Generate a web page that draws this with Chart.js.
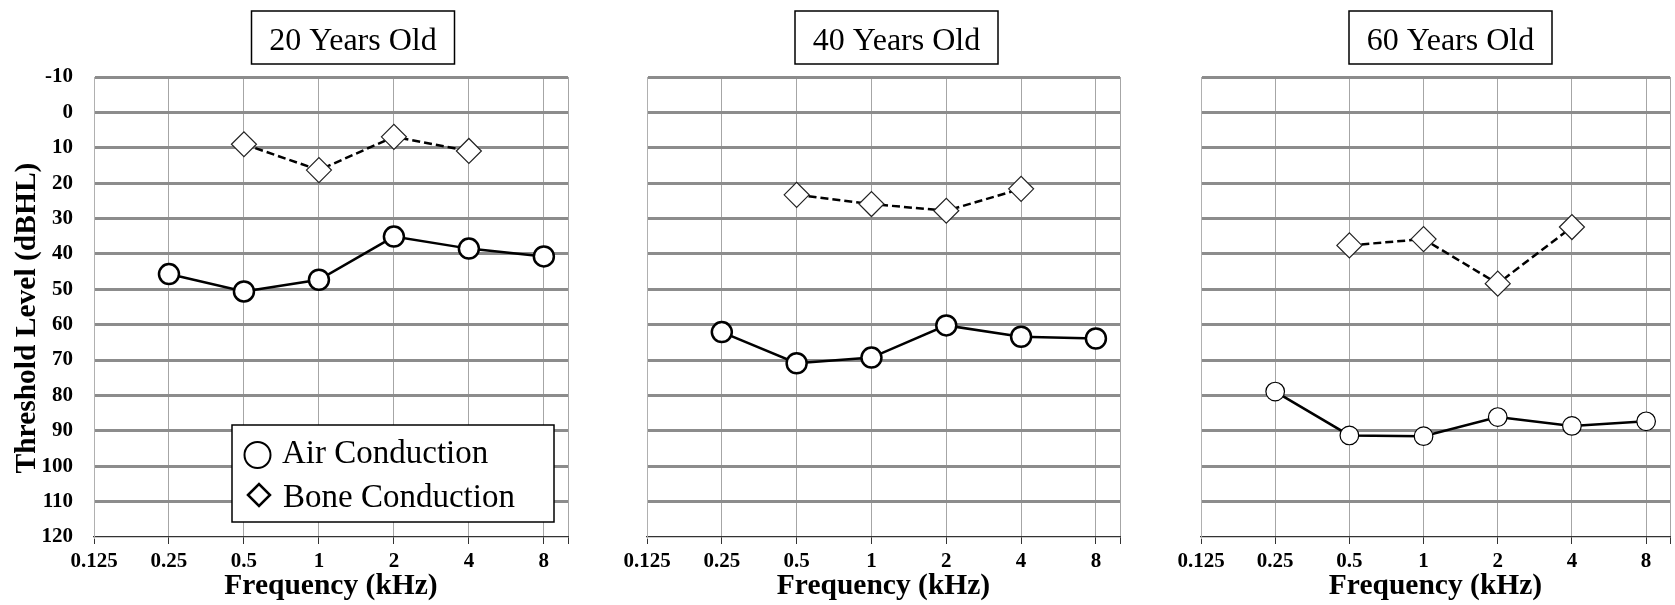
<!DOCTYPE html>
<html>
<head>
<meta charset="utf-8">
<script src="https://cdn.jsdelivr.net/npm/chart.js@4.4.0/dist/chart.umd.min.js"></script>
<style>
  html, body { margin: 0; padding: 0; background: #fff; }
  #wrap { position: relative; width: 1675px; height: 605px; overflow: hidden; }
  .panel { position: absolute; top: 0; }
</style>
</head>
<body>
<div id="wrap">
  <canvas id="c20" class="panel" style="left:0px" width="600" height="605"></canvas>
  <canvas id="c40" class="panel" style="left:600px" width="550" height="605"></canvas>
  <canvas id="c60" class="panel" style="left:1150px" width="525" height="605"></canvas>
</div>
<script>
// frequencies (kHz)
var freqTicks = [0.125, 0.25, 0.5, 1, 2, 4, 8];
var freqMax = 10;
var airFreqs = [0.25, 0.5, 1, 2, 4, 8];
var boneFreqs = [0.5, 1, 2, 4];

// thresholds (dBHL)
var air20 = [45.7, 50.6, 47.3, 35.1, 38.5, 40.7];
var bone20 = [9, 16.3, 6.9, 10.9];
var air40 = [62.1, 70.9, 69.3, 60.2, 63.4, 63.9];
var bone40 = [23.3, 25.9, 27.8, 21.6];
var air60 = [78.9, 91.3, 91.5, 86.1, 88.6, 87.3];
var bone60 = [37.6, 35.8, 48.4, 32.4];

var seriesNames = ['Air Conduction', 'Bone Conduction'];
var yTitle = 'Threshold Level (dBHL)';
var xTitle = 'Frequency (kHz)';

var SERIF = '"Liberation Serif", "Times New Roman", serif';

function pts(freqs, vals) {
    return freqs.map((f, i) => ({ x: f, y: vals[i] }));
}

// boxed panel title above the plot
const boxTitle = {
    id: 'boxTitle',
    afterDraw(chart, args, o) {
        const ctx = chart.ctx;
        const a = chart.chartArea;
        const cx = (a.left + a.right) / 2 + o.shift;
        ctx.save();
        ctx.fillStyle = '#fff';
        ctx.fillRect(cx - 101.5, 11, 203, 53);
        ctx.lineWidth = 1.5;
        ctx.strokeStyle = '#000';
        ctx.strokeRect(cx - 101.5, 11, 203, 53);
        ctx.font = '32px ' + SERIF;
        ctx.fillStyle = '#000';
        ctx.textAlign = 'center';
        ctx.textBaseline = 'alphabetic';
        ctx.fillText(o.text, cx, 50);
        ctx.restore();
    }
};

// legend box inside the first panel
const boxLegend = {
    id: 'boxLegend',
    afterDraw(chart, args, o) {
        if (!o.show) return;
        const ctx = chart.ctx;
        const a = chart.chartArea;
        const x = a.left + 138, y = a.top + 348, w = 322, h = 97;
        ctx.save();
        ctx.fillStyle = '#fff';
        ctx.fillRect(x, y, w, h);
        ctx.lineWidth = 1.5;
        ctx.strokeStyle = '#000';
        ctx.strokeRect(x, y, w, h);
        // circle
        ctx.lineWidth = 2;
        ctx.beginPath();
        ctx.arc(x + 25.5, y + 30, 13, 0, Math.PI * 2);
        ctx.stroke();
        // diamond
        ctx.lineWidth = 2.5;
        ctx.beginPath();
        ctx.moveTo(x + 27 - 11, y + 70);
        ctx.lineTo(x + 27, y + 70 - 11);
        ctx.lineTo(x + 27 + 11, y + 70);
        ctx.lineTo(x + 27, y + 70 + 11);
        ctx.closePath();
        ctx.stroke();
        ctx.font = '33px ' + SERIF;
        ctx.fillStyle = '#000';
        ctx.textBaseline = 'alphabetic';
        ctx.fillText(chart.data.datasets[0].label, x + 50, y + 38);
        ctx.fillText(chart.data.datasets[1].label, x + 51, y + 82);
        ctx.restore();
    }
};

function makePanel(id, title, air, bone, p) {
    const ctx = document.getElementById(id).getContext('2d');
    return new Chart(ctx, {
        type: 'line',
        data: {
            datasets: [
                {
                    label: seriesNames[0],
                    data: pts(airFreqs, air),
                    borderColor: '#000',
                    borderWidth: 2.5,
                    pointStyle: 'circle',
                    pointRadius: p.circleR,
                    pointBorderWidth: p.circleBw,
                    pointBorderColor: '#000',
                    pointBackgroundColor: '#fff',
                    tension: 0
                },
                {
                    label: seriesNames[1],
                    data: pts(boneFreqs, bone),
                    borderColor: '#000',
                    borderWidth: 2.5,
                    borderDash: [8, 4],
                    pointStyle: 'rectRot',
                    pointRadius: 12.5,
                    pointBorderWidth: 1.2,
                    pointBorderColor: '#222',
                    pointBackgroundColor: '#fff',
                    tension: 0
                }
            ]
        },
        options: {
            responsive: false,
            animation: false,
            layout: {
                autoPadding: false,
                padding: { top: 77, right: p.right, bottom: 0, left: 0 }
            },
            plugins: {
                legend: { display: false },
                tooltip: { enabled: false },
                boxTitle: { text: title, shift: p.shift },
                boxLegend: { show: p.legend }
            },
            scales: {
                x: {
                    type: 'logarithmic',
                    min: freqTicks[0],
                    max: freqMax,
                    afterBuildTicks: s => { s.ticks = freqTicks.concat([freqMax]).map(v => ({ value: v })); },
                    afterFit: s => { s.height = 68; },
                    ticks: {
                        autoSkip: false,
                        maxRotation: 0,
                        padding: 5,
                        color: '#000',
                        font: { family: SERIF, size: 21, weight: 'bold' },
                        callback: v => (v === freqMax ? '' : String(v))
                    },
                    grid: { color: '#a6a6a6', lineWidth: 1, tickLength: 7, tickColor: '#333' },
                    border: { color: '#333', width: 1.3 },
                    title: {
                        display: true,
                        text: xTitle,
                        color: '#000',
                        padding: { top: 0, bottom: 1 },
                        font: { family: SERIF, size: 29.5, weight: 'bold' }
                    }
                },
                y: {
                    reverse: true,
                    min: -10,
                    max: 120,
                    afterFit: s => { s.width = p.left; },
                    ticks: {
                        display: p.labels,
                        stepSize: 10,
                        padding: 21,
                        color: '#000',
                        font: { family: SERIF, size: 21, weight: 'bold' }
                    },
                    grid: {
                        drawTicks: false,
                        color: c => (c.tick && c.tick.value === 120 ? 'rgba(0,0,0,0)' : '#8c8c8c'),
                        lineWidth: 3
                    },
                    border: { color: '#b0b0b0', width: 1 },
                    title: {
                        display: p.labels,
                        // trailing spaces nudge the centred title a little lower, as in the original
                        text: yTitle + '\u00a0\u00a0\u00a0',
                        color: '#000',
                        padding: { top: 10, bottom: 0 },
                        font: { family: SERIF, size: 29.5, weight: 'bold' }
                    }
                }
            }
        },
        plugins: [boxTitle, boxLegend]
    });
}

makePanel('c20', '20 Years Old', air20, bone20,
    { left: 94, right: 32, shift: 22, labels: true, legend: true, circleR: 10, circleBw: 2.5 });
makePanel('c40', '40 Years Old', air40, bone40,
    { left: 47, right: 30, shift: 13, labels: false, legend: false, circleR: 10, circleBw: 2.5 });
makePanel('c60', '60 Years Old', air60, bone60,
    { left: 51, right: 0, shift: 15, labels: false, legend: false, circleR: 9.3, circleBw: 1.2 });
</script>
</body>
</html>
